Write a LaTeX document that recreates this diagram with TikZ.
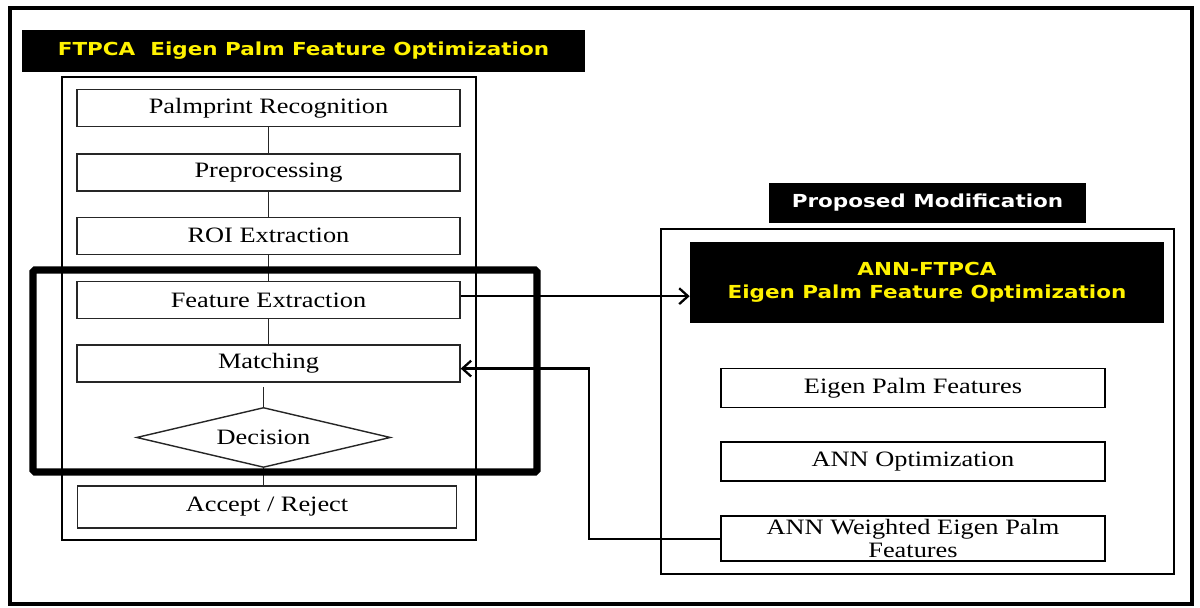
\documentclass[tikz,border=0pt]{standalone}
\usepackage{fontspec}
\setmainfont{Liberation Serif}[FakeStretch=1.2]
\newfontfamily\headfont{DejaVu Sans}[FakeStretch=1.2]
\usetikzlibrary{positioning,shapes.geometric,arrows.meta}

\tikzset{
  stagebox/.style={draw=black!85, line width=0.8pt, minimum width=7.66cm, minimum height=0.74cm,
    inner sep=1pt, font=\fontsize{12.5}{13}\selectfont},
  modbox/.style={draw, line width=1.1pt, minimum width=7.68cm, minimum height=0.78cm,
    inner sep=1pt, align=center, font=\fontsize{12.5}{13}\selectfont},
  headbar/.style={fill=black, text=yellow, inner sep=1pt, align=center,
    font=\headfont\bfseries\fontsize{10.2}{13}\selectfont},
  link/.style={draw=black!85, line width=0.8pt},
  arr/.style={line width=1.4pt, -{Straight Barb[length=5pt,width=9pt,line width=1.3pt]}}
}

\begin{document}
\begin{tikzpicture}[x=0.02cm,y=-0.02cm]
  \useasboundingbox (0,0) rectangle (1200,608);
  \fill[white] (0,0) rectangle (1200,608);
  \draw[line width=2.3pt] (10,8) rectangle (1192,604);

  % left column
  \node[headbar, minimum width=11.26cm, minimum height=0.84cm] (ftpca) at (303.5,51)
    {FTPCA\ \ Eigen Palm Feature Optimization};
  \draw[line width=0.8pt] (62,77) rectangle (476,540);
  \node[stagebox] (palm) at (268.5,108) {Palmprint Recognition};
  \node[stagebox] (pre) [below=0.52cm of palm] {Preprocessing};
  \node[stagebox] (roi) [below=0.5cm of pre] {ROI Extraction};
  \node[stagebox] (fe) [below=0.52cm of roi] {Feature Extraction};
  \node[stagebox] (match) [below=0.5cm of fe] {Matching};
  \node[diamond, aspect=4.2, draw=black!85, line width=0.8pt, minimum width=5.08cm, minimum height=1.2cm,
    inner sep=0pt, font=\fontsize{12.5}{13}\selectfont] (dec) [below=0.48cm of match, xshift=-0.1cm] {Decision};
  \node[stagebox, minimum width=7.58cm, minimum height=0.84cm] (acc) [below=0.34cm of dec, xshift=0.07cm] {Accept / Reject};

  \draw[link] (palm) -- (pre);
  \draw[link] (pre) -- (roi);
  \draw[link] (roi) -- (fe);
  \draw[link] (fe) -- (match);
  \draw[link] ([yshift=-0.08cm]match.south -| dec.north) -- (dec.north);
  \draw[link] (dec.south) -- (acc.north -| dec.south);

  % right column
  \node[headbar, text=white, minimum width=6.34cm, minimum height=0.8cm] (prop) at (927.5,203)
    {Proposed Modification};
  \draw[line width=1.2pt] (661,229) rectangle (1174,574);
  \node[headbar, minimum width=9.48cm, minimum height=1.62cm] (ann) at (927,282.5)
    {ANN-FTPCA\\Eigen Palm Feature Optimization};
  \node[modbox] (epf) at (913,388) {Eigen Palm Features};
  \node[modbox] (opt) [below=0.66cm of epf] {ANN Optimization};
  \node[modbox, minimum height=0.9cm] (aw) [below=0.66cm of opt] {ANN Weighted Eigen Palm\\Features};

  \draw[arr] ([yshift=0.08cm]fe.east) -- ([yshift=0.08cm]fe.east -| ann.west);
  \draw[arr] (aw.west) -- ++(-131,0) |- ([yshift=-0.1cm]match.east);

  % highlighted part
  \draw[line width=4pt, rounded corners=1pt] (33,270) rectangle (537,472);
\end{tikzpicture}
\end{document}
